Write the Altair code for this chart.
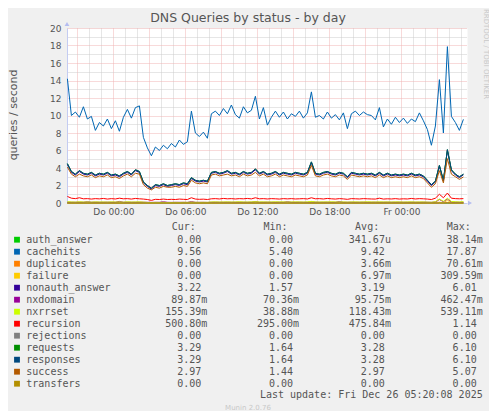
import altair as alt
import pandas as pd

# ---------------- data ----------------
names = ["auth_answer", "cachehits", "duplicates", "failure", "nonauth_answer",
         "nxdomain", "nxrrset", "recursion", "rejections", "requests",
         "responses", "success", "transfers"]
colors = ["#00CC00", "#0066B3", "#FF8000", "#FFCC00", "#330099", "#990099",
          "#CCFF00", "#FF0000", "#808080", "#008F00", "#00487D", "#B35A00", "#B38F00"]

cur_vals = ["0.00", "9.56", "0.00", "0.00", "3.22", "89.87m", "155.39m", "500.80m",
            "0.00", "3.29", "3.29", "2.97", "0.00"]
min_vals = ["0.00", "5.40", "0.00", "0.00", "1.57", "70.36m", "38.88m", "295.00m",
            "0.00", "1.64", "1.64", "1.44", "0.00"]
avg_vals = ["341.67u", "9.42", "3.66m", "6.97m", "3.19", "95.75m", "118.43m", "475.84m",
            "0.00", "3.28", "3.28", "2.97", "0.00"]
max_vals = ["38.14m", "17.87", "70.61m", "309.59m", "6.01", "462.47m", "539.11m", "1.14",
            "0.00", "6.10", "6.10", "5.07", "0.00"]
headers = ["Cur:", "Min:", "Avg:", "Max:"]

cachehits = [14.2, 10.0, 10.4, 9.8, 11.0, 9.6, 9.9, 8.3, 9.2, 8.8,
             9.6, 8.5, 9.4, 8.2, 9.8, 10.7, 9.7, 10.9, 11.1, 7.5,
             6.3, 5.4, 6.4, 6.0, 6.6, 6.2, 6.8, 6.4, 7.2, 6.7,
             7.0, 10.5, 8.0, 7.6, 8.1, 7.4, 10.2, 10.5, 10.0, 10.8,
             10.2, 11.2, 10.1, 9.7, 11.0, 10.3, 10.6, 12.2, 9.6, 10.9,
             8.9, 9.8, 10.5, 9.8, 10.4, 9.6, 10.2, 9.9, 10.5, 9.7,
             10.3, 12.7, 9.8, 10.0, 9.6, 10.4, 9.7, 10.1, 9.5, 10.3,
             8.5, 10.2, 10.5, 10.0, 10.4, 10.1, 10.0, 9.5, 10.9, 8.7,
             9.6, 9.0, 9.8, 9.2, 9.7, 9.1, 9.6, 9.3, 10.3, 9.4,
             8.4, 6.6, 8.8, 14.1, 8.0, 17.87, 9.9, 9.2, 8.3, 9.56]

requests = [4.5, 3.6, 3.3, 3.7, 3.4, 3.3, 3.5, 3.2, 3.4, 3.3,
            3.5, 3.2, 3.3, 3.1, 3.4, 3.6, 3.3, 3.8, 3.6, 2.4,
            2.0, 1.7, 2.1, 2.0, 2.2, 2.0, 2.1, 2.2, 2.1, 2.3,
            2.2, 2.9, 2.6, 2.5, 2.6, 2.5, 3.5, 3.6, 3.4, 3.5,
            3.7, 3.4, 3.5, 3.3, 3.6, 3.4, 3.5, 3.9, 3.4, 3.6,
            3.3, 3.4, 3.6, 3.3, 3.5, 3.4, 3.3, 3.5, 3.4, 3.3,
            3.5, 4.7, 3.4, 3.3, 3.5, 3.6, 3.4, 3.3, 3.5, 3.4,
            3.0, 3.5, 3.4, 3.3, 3.4, 3.3, 3.4, 3.2, 3.5, 3.2,
            3.4, 3.2, 3.3, 3.2, 3.3, 3.2, 3.4, 3.2, 3.3, 3.1,
            2.6, 2.1, 2.5, 4.3, 2.6, 6.1, 3.8, 3.3, 3.0, 3.29]

responses = [4.5, 3.6, 3.3, 3.7, 3.4, 3.3, 3.5, 3.2, 3.4, 3.3,
             3.5, 3.2, 3.3, 3.1, 3.4, 3.6, 3.3, 3.8, 3.6, 2.4,
             2.0, 1.7, 2.1, 2.0, 2.2, 2.0, 2.1, 2.2, 2.1, 2.3,
             2.2, 2.9, 2.6, 2.5, 2.6, 2.5, 3.5, 3.6, 3.4, 3.5,
             3.7, 3.4, 3.5, 3.3, 3.6, 3.4, 3.5, 3.9, 3.4, 3.6,
             3.3, 3.4, 3.6, 3.3, 3.5, 3.4, 3.3, 3.5, 3.4, 3.3,
             3.5, 4.7, 3.4, 3.3, 3.5, 3.6, 3.4, 3.3, 3.5, 3.4,
             3.0, 3.5, 3.4, 3.3, 3.4, 3.3, 3.4, 3.2, 3.5, 3.2,
             3.4, 3.2, 3.3, 3.2, 3.3, 3.2, 3.4, 3.2, 3.3, 3.1,
             2.6, 2.1, 2.5, 4.3, 2.6, 6.1, 3.8, 3.3, 3.0, 3.29]

nonauth_answer = [4.4, 3.5, 3.2, 3.6, 3.3, 3.2, 3.4, 3.1, 3.3, 3.2,
                  3.4, 3.1, 3.2, 3.0, 3.3, 3.5, 3.2, 3.7, 3.5, 2.3,
                  1.9, 1.6, 2.0, 1.9, 2.1, 1.9, 2.0, 2.1, 2.0, 2.2,
                  2.1, 2.8, 2.5, 2.4, 2.5, 2.4, 3.4, 3.5, 3.3, 3.4,
                  3.6, 3.3, 3.4, 3.2, 3.5, 3.3, 3.4, 3.8, 3.3, 3.5,
                  3.2, 3.3, 3.5, 3.2, 3.4, 3.3, 3.2, 3.4, 3.3, 3.2,
                  3.4, 4.6, 3.3, 3.2, 3.4, 3.5, 3.3, 3.2, 3.4, 3.3,
                  2.9, 3.4, 3.3, 3.2, 3.3, 3.2, 3.3, 3.1, 3.4, 3.1,
                  3.3, 3.1, 3.2, 3.1, 3.2, 3.1, 3.3, 3.1, 3.2, 3.0,
                  2.5, 2.0, 2.4, 4.2, 2.5, 6.01, 3.7, 3.2, 2.9, 3.22]

success = [4.1, 3.3, 3.0, 3.3, 3.1, 3.0, 3.2, 2.9, 3.1, 3.0,
           3.2, 2.9, 3.0, 2.8, 3.1, 3.3, 3.0, 3.4, 3.3, 2.1,
           1.7, 1.5, 1.8, 1.7, 1.9, 1.8, 1.8, 1.9, 1.8, 2.0,
           1.9, 2.6, 2.3, 2.2, 2.3, 2.2, 3.2, 3.3, 3.1, 3.2,
           3.3, 3.1, 3.2, 3.0, 3.3, 3.1, 3.2, 3.5, 3.1, 3.3,
           3.0, 3.1, 3.3, 3.0, 3.2, 3.1, 3.0, 3.2, 3.1, 3.0,
           3.2, 4.3, 3.1, 3.0, 3.2, 3.3, 3.1, 3.0, 3.2, 3.1,
           2.7, 3.2, 3.1, 3.0, 3.1, 3.0, 3.1, 2.9, 3.2, 2.9,
           3.1, 2.9, 3.0, 2.9, 3.0, 2.9, 3.1, 2.9, 3.0, 2.8,
           2.3, 1.8, 2.2, 3.7, 2.3, 5.07, 3.3, 3.0, 2.7, 2.97]

recursion = [0.75, 0.55, 0.50, 0.60, 0.48, 0.50, 0.45, 0.50, 0.47, 0.52,
             0.45, 0.50, 0.46, 0.55, 0.48, 0.50, 0.45, 0.52, 0.48, 0.45,
             0.40, 0.30, 0.42, 0.40, 0.45, 0.40, 0.42, 0.40, 0.45, 0.42,
             0.40, 0.60, 0.45, 0.42, 0.44, 0.40, 0.48, 0.50, 0.46, 0.52,
             0.48, 0.50, 0.46, 0.50, 0.48, 0.52, 0.47, 0.60, 0.48, 0.50,
             0.46, 0.50, 0.48, 0.45, 0.50, 0.47, 0.50, 0.46, 0.48, 0.50,
             0.46, 0.60, 0.48, 0.50, 0.46, 0.52, 0.48, 0.45, 0.50, 0.47,
             0.42, 0.50, 0.48, 0.46, 0.50, 0.48, 0.46, 0.45, 0.55, 0.45,
             0.48, 0.46, 0.50, 0.45, 0.48, 0.46, 0.52, 0.46, 0.50, 0.48,
             0.45, 0.40, 0.55, 1.00, 0.60, 1.14, 0.55, 0.50, 0.48, 0.50]

nxrrset = [0.15, 0.12, 0.10, 0.14, 0.11, 0.12, 0.10, 0.13, 0.11, 0.12,
           0.10, 0.13, 0.11, 0.12, 0.10, 0.14, 0.11, 0.12, 0.13, 0.10,
           0.06, 0.04, 0.07, 0.06, 0.08, 0.05, 0.06, 0.07, 0.06, 0.08,
           0.07, 0.10, 0.08, 0.07, 0.08, 0.07, 0.12, 0.13, 0.11, 0.12,
           0.13, 0.11, 0.12, 0.14, 0.12, 0.11, 0.13, 0.15, 0.12, 0.13,
           0.11, 0.12, 0.14, 0.12, 0.13, 0.11, 0.12, 0.13, 0.12, 0.11,
           0.13, 0.18, 0.12, 0.11, 0.13, 0.12, 0.14, 0.12, 0.11, 0.13,
           0.10, 0.12, 0.13, 0.11, 0.12, 0.14, 0.12, 0.11, 0.13, 0.12,
           0.12, 0.11, 0.13, 0.12, 0.11, 0.12, 0.13, 0.11, 0.12, 0.12,
           0.10, 0.08, 0.15, 0.45, 0.20, 0.54, 0.18, 0.14, 0.12, 0.155]

nxdomain = [0.10, 0.09, 0.09, 0.10, 0.09, 0.15, 0.09, 0.10, 0.09, 0.09,
            0.10, 0.09, 0.09, 0.18, 0.09, 0.10, 0.09, 0.09, 0.10, 0.09,
            0.08, 0.07, 0.08, 0.08, 0.14, 0.08, 0.07, 0.08, 0.08, 0.08,
            0.07, 0.16, 0.08, 0.08, 0.08, 0.07, 0.09, 0.10, 0.09, 0.09,
            0.10, 0.09, 0.09, 0.10, 0.09, 0.09, 0.10, 0.17, 0.09, 0.09,
            0.10, 0.09, 0.09, 0.10, 0.09, 0.15, 0.09, 0.09, 0.10, 0.09,
            0.09, 0.14, 0.10, 0.09, 0.09, 0.10, 0.09, 0.09, 0.16, 0.09,
            0.09, 0.10, 0.09, 0.09, 0.10, 0.09, 0.09, 0.10, 0.09, 0.09,
            0.10, 0.09, 0.09, 0.10, 0.09, 0.09, 0.10, 0.09, 0.09, 0.10,
            0.09, 0.08, 0.12, 0.40, 0.15, 0.46, 0.12, 0.10, 0.09, 0.09]

auth_answer = [0.0] * 93 + [0.04, 0.0, 0.0, 0.0, 0.0, 0.0, 0.0]
duplicates = [0.0] * 95 + [0.07, 0.0, 0.0, 0.0, 0.0]
failure = [0.0] * 93 + [0.10, 0.0, 0.31, 0.0, 0.0, 0.0, 0.0]
rejections = [0.0] * 100
transfers = [0.0] * 100

values = {
    "auth_answer": auth_answer, "cachehits": cachehits, "duplicates": duplicates,
    "failure": failure, "nonauth_answer": nonauth_answer, "nxdomain": nxdomain,
    "nxrrset": nxrrset, "recursion": recursion, "rejections": rejections,
    "requests": requests, "responses": responses, "success": success,
    "transfers": transfers,
}

times = pd.date_range("2025-12-24 20:10", periods=100, freq="20min").strftime("%Y-%m-%dT%H:%M:%S").tolist()

rows = []
for name in names:
    for t, v in zip(times, values[name]):
        rows.append({"time": t, "series": name, "value": v})
df = pd.DataFrame(rows)

# ---------------- style ----------------
SANS = "DejaVu Sans"
MONO = "DejaVu Sans Mono"
TXT = "#555555"
AXISC = "#c4ccf2"
MAJOR = "#f0b4b4"
MINOR = "#cccccc"

xticks = [alt.DateTime(year=ts.year, month=ts.month, date=ts.day, hours=ts.hour)
          for ts in pd.date_range("2025-12-24 21:00", "2025-12-26 05:00", freq="h")]

x_enc = alt.X(
    "time:T",
    scale=alt.Scale(domain=[alt.DateTime(year=2025, month=12, date=24, hours=20, minutes=8),
                            alt.DateTime(year=2025, month=12, date=26, hours=5, minutes=28)]),
    axis=alt.Axis(values=xticks, title=None, ticks=False, labelPadding=4,
                  labelExpr="hours(datum.value) % 6 == 0 ? (day(datum.value) == 4 ? 'Do ' : 'Fr ') + timeFormat(datum.value, '%H:%M') : ''",
                  labelFont=SANS, labelFontSize=9, labelColor=TXT, labelOverlap=False,
                  labelFlush=False, domainColor=AXISC, grid=True, gridDash=[1, 1], gridWidth=1,
                  gridColor={"condition": {"test": "hours(datum.value) % 3 == 0", "value": MAJOR},
                             "value": MINOR}),
)
y_enc = alt.Y(
    "value:Q",
    scale=alt.Scale(domain=[0, 20], nice=False, zero=True),
    axis=alt.Axis(values=list(range(0, 21)), title=None, ticks=False, labelPadding=6,
                  labelExpr="datum.value % 2 == 0 ? datum.label : ''",
                  labelFont=SANS, labelFontSize=9, labelColor=TXT, labelOverlap=False,
                  labelFlush=False, domainColor=AXISC, grid=True, gridDash=[1, 1], gridWidth=1,
                  gridColor={"condition": {"test": "datum.value % 2 == 0", "value": MAJOR},
                             "value": MINOR}),
)

line_layers = []
for name, col in zip(names, colors):
    line_layers.append(
        alt.Chart(df).transform_filter(alt.datum.series == name)
        .mark_line(color=col, strokeWidth=1)
        .encode(x=x_enc, y=y_enc)
    )
lines = alt.layer(*line_layers)

one = pd.DataFrame({"k": [0]})

arrow_up = alt.Chart(one).mark_point(shape="triangle-up", filled=True, size=22, color="#b4bcf0", opacity=1).encode(
    x=alt.value(0), y=alt.value(-4))
arrow_right = alt.Chart(one).mark_point(shape="triangle-right", filled=True, size=22, color="#b4bcf0", opacity=1).encode(
    x=alt.value(403), y=alt.value(175))

title = alt.Chart(one).mark_text(text="DNS Queries by status - by day", font=SANS, fontSize=12.5,
                                  color=TXT, align="center", baseline="middle").encode(
    x=alt.value(181), y=alt.value(-10))
ytitle = alt.Chart(one).mark_text(text="queries / second", font=SANS, fontSize=11, color=TXT,
                                   angle=270, align="center", baseline="alphabetic").encode(
    x=alt.value(-50), y=alt.value(87))
rrd = alt.Chart(one).mark_text(text="RRDTOOL / TOBI OETIKER", font=SANS, fontSize=7, color="#c8c8c8",
                                angle=90, align="center", baseline="middle").encode(
    x=alt.value(419), y=alt.value(26))

# legend table
leg_df = pd.DataFrame({"name": names, "color": colors, "row": list(range(len(names)))})
stat_rows = []
for r in range(len(names)):
    for c, col_vals in enumerate([cur_vals, min_vals, avg_vals, max_vals]):
        s = col_vals[r]
        if s[-1] in "um":
            num, suf = s[:-1], s[-1]
        else:
            num, suf = s, ""
        stat_rows.append({"row": r, "col": c, "num": num, "suf": suf})
stat_df = pd.DataFrame(stat_rows)
head_df = pd.DataFrame({"h": headers, "col": list(range(4))})

squares = alt.Chart(leg_df).transform_calculate(py="211.7 + 12 * datum.row").mark_square(
    size=34, opacity=1).encode(
    x=alt.value(-50), y=alt.Y("py:Q", scale=None, axis=None),
    color=alt.Color("color:N", scale=None, legend=None))
name_txt = alt.Chart(leg_df).transform_calculate(py="211.7 + 12 * datum.row").mark_text(
    font=MONO, fontSize=10, color=TXT, align="left", baseline="middle").encode(
    x=alt.value(-40.7), y=alt.Y("py:Q", scale=None, axis=None), text="name:N")
num_txt = alt.Chart(stat_df).transform_calculate(
    py="211.7 + 12 * datum.row", px="134.3 + 91.8 * datum.col").mark_text(
    font=MONO, fontSize=10, color=TXT, align="right", baseline="middle").encode(
    x=alt.X("px:Q", scale=None, axis=None), y=alt.Y("py:Q", scale=None, axis=None), text="num:N")
suf_txt = alt.Chart(stat_df).transform_filter("datum.suf != ''").transform_calculate(
    py="211.7 + 12 * datum.row", px="134.3 + 91.8 * datum.col").mark_text(
    font=MONO, fontSize=10, color=TXT, align="left", baseline="middle").encode(
    x=alt.X("px:Q", scale=None, axis=None), y=alt.Y("py:Q", scale=None, axis=None), text="suf:N")
head_txt = alt.Chart(head_df).transform_calculate(px="104.7 + 91.7 * datum.col").mark_text(
    font=MONO, fontSize=10, color=TXT, align="left", baseline="middle").encode(
    x=alt.X("px:Q", scale=None, axis=None), y=alt.value(199.3), text="h:N")
last_upd = alt.Chart(one).mark_text(text="Last update: Fri Dec 26 05:20:08 2025", font=MONO, fontSize=10,
                                     color=TXT, align="right", baseline="middle").encode(
    x=alt.value(415.7), y=alt.value(367.3))
munin = alt.Chart(one).mark_text(text="Munin 2.0.76", font=SANS, fontSize=7, color="#c8c8c8",
                                  align="center", baseline="middle").encode(
    x=alt.value(181), y=alt.value(380))

chart = alt.layer(
    lines, arrow_up, arrow_right, title, ytitle, rrd,
    squares, name_txt, num_txt, suf_txt, head_txt, last_upd, munin
).resolve_scale(x="independent", y="independent").properties(
    width=400, height=175,
    autosize=alt.AutoSizeParams(type="none"),
    padding={"left": 59, "top": 20, "right": 22, "bottom": 208},
).configure(background="#f0f0f0").configure_view(fill="white", stroke="transparent")

chart.save("out.html", embed_options={"renderer": "svg", "actions": False})
